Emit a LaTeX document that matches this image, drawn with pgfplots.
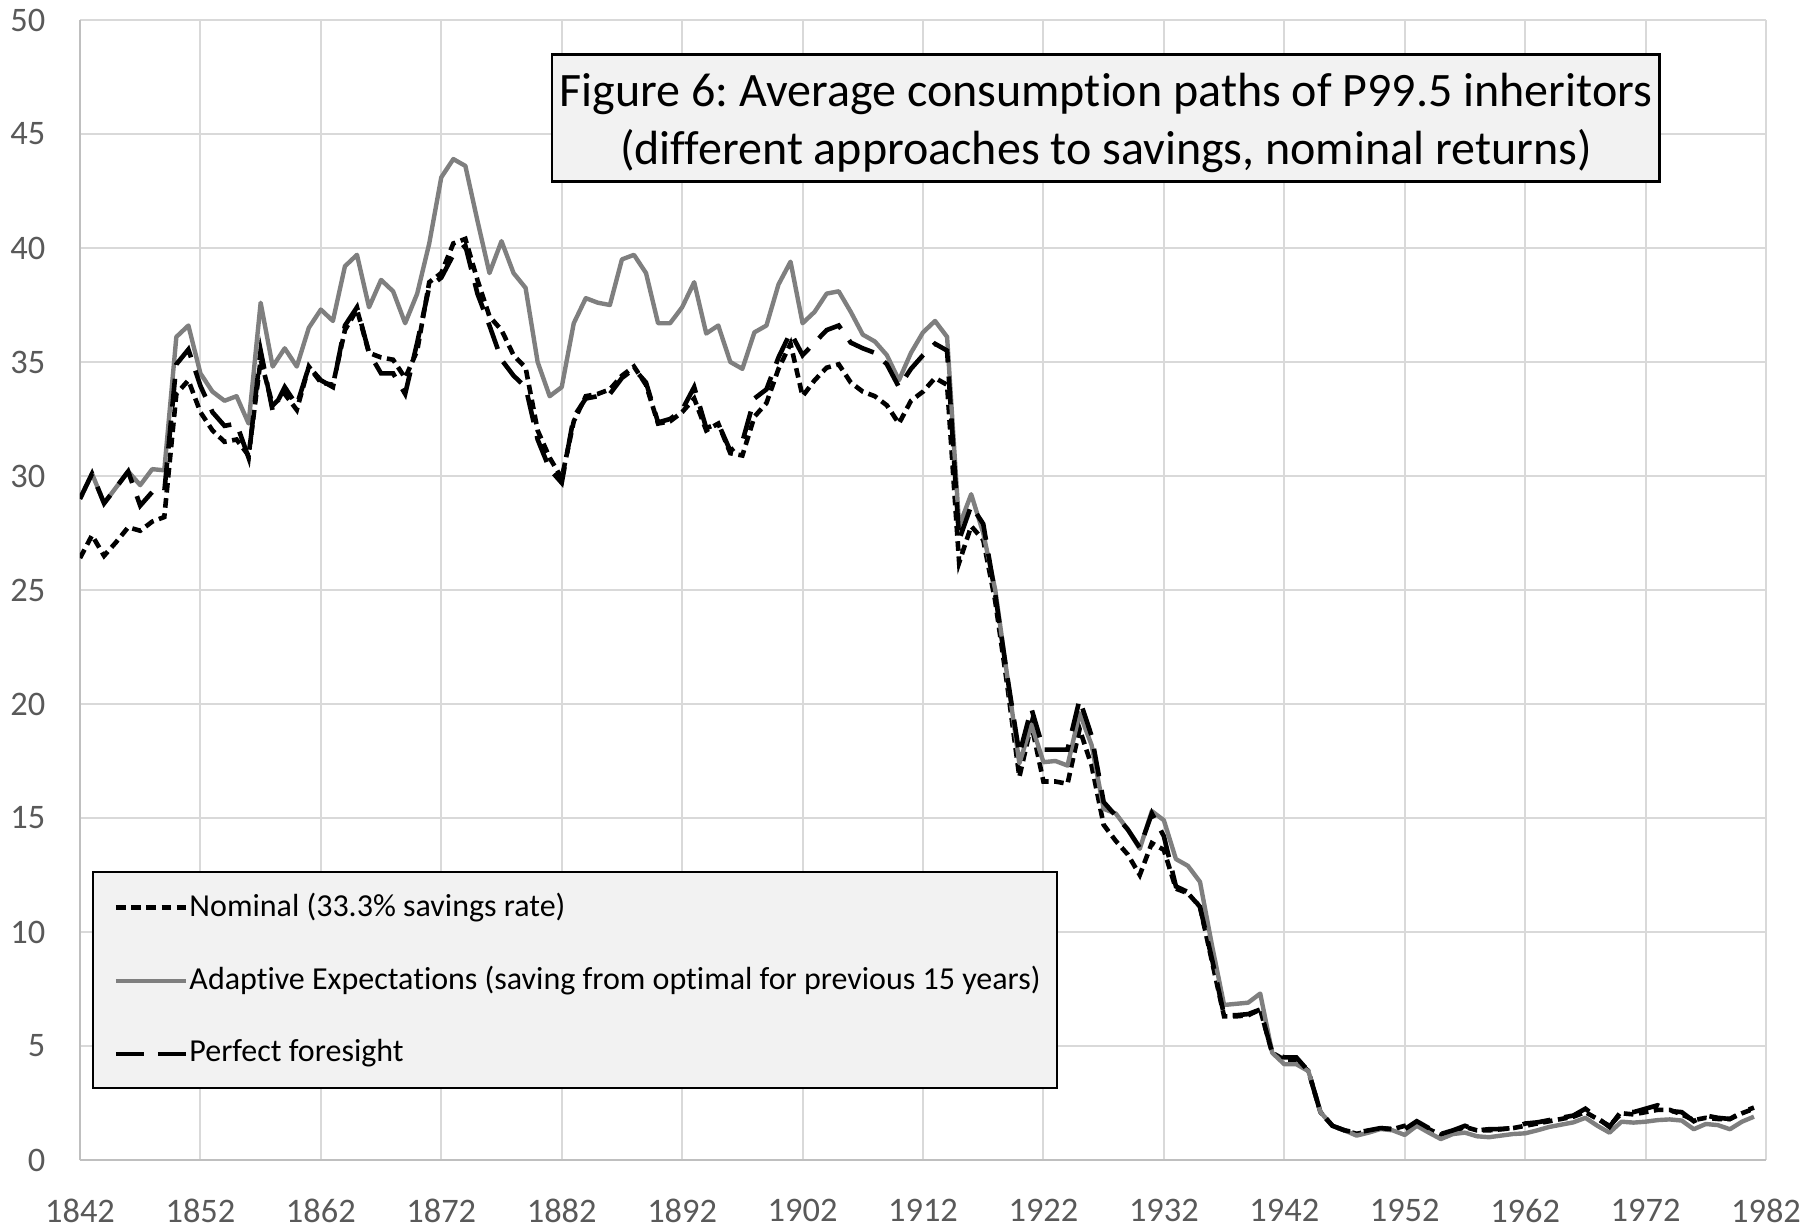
\documentclass[border=0pt]{standalone}
\usepackage{pgfplots}
\usepackage{pgfplotstable}
\pgfplotsset{compat=1.18}
\usepackage{fontspec}
\setmainfont{Carlito}[Ligatures=NoCommon]
\frenchspacing
\definecolor{gridc}{HTML}{D9D9D9}
\definecolor{axc}{HTML}{BFBFBF}
\definecolor{tickc}{HTML}{595959}
\definecolor{serg}{HTML}{7F7F7F}
\definecolor{boxf}{HTML}{F2F2F2}

\pgfplotstableread{
year nom ada pf
1842 26.4 29.0 29.0
1843 27.4 30.1 30.1
1844 26.5 28.8 28.8
1845 27.1 29.5 29.5
1846 27.75 30.2 30.2
1847 27.6 29.6 28.7
1848 28.0 30.3 29.3
1849 28.2 30.25 29.3
1850 33.6 36.1 34.9
1851 34.2 36.6 35.55
1852 32.8 34.5 33.95
1853 32.0 33.7 32.8
1854 31.5 33.3 32.2
1855 31.6 33.5 32.3
1856 30.9 32.3 30.8
1857 35.1 37.6 35.5
1858 33.1 34.8 32.85
1859 33.6 35.6 33.9
1860 32.9 34.8 33.1
1861 34.8 36.5 34.8
1862 34.1 37.3 34.2
1863 34.0 36.8 33.9
1864 36.4 39.2 36.6
1865 37.3 39.7 37.4
1866 35.4 37.4 35.4
1867 35.2 38.6 34.5
1868 35.1 38.1 34.5
1869 34.3 36.7 33.6
1870 35.5 38.0 35.85
1871 38.5 40.2 38.3
1872 38.9 43.1 38.7
1873 40.2 43.9 39.7
1874 40.4 43.6 40.1
1875 38.6 41.2 38.0
1876 37.0 38.9 36.6
1877 36.4 40.3 35.1
1878 35.3 38.9 34.4
1879 34.75 38.25 33.9
1880 32.0 35.0 31.6
1881 30.8 33.5 30.3
1882 29.9 33.9 29.7
1883 32.4 36.7 32.6
1884 33.5 37.8 33.4
1885 33.6 37.6 33.5
1886 33.8 37.5 33.6
1887 34.4 39.5 34.3
1888 34.8 39.7 34.7
1889 34.0 38.9 34.1
1890 32.3 36.7 32.35
1891 32.4 36.7 32.5
1892 32.8 37.4 32.9
1893 33.4 38.5 33.9
1894 32.0 36.25 32.1
1895 32.3 36.6 32.3
1896 31.0 35.0 31.1
1897 30.9 34.7 31.5
1898 32.6 36.3 33.4
1899 33.2 36.6 33.8
1900 34.7 38.4 35.2
1901 35.8 39.4 36.3
1902 33.5 36.7 35.3
1903 34.2 37.2 35.85
1904 34.75 38.0 36.4
1905 34.9 38.1 36.6
1906 34.1 37.2 35.85
1907 33.7 36.2 35.6
1908 33.5 35.9 35.4
1909 33.1 35.3 34.9
1910 32.3 34.2 33.9
1911 33.3 35.4 34.7
1912 33.7 36.3 35.3
1913 34.3 36.8 35.8
1914 34.0 36.1 35.5
1915 26.2 27.8 27.2
1916 27.8 29.2 28.7
1917 27.2 27.5 27.9
1918 24.5 25.0 24.8
1919 20.8 21.2 21.2
1920 16.8 17.4 17.8
1921 19.1 19.1 19.8
1922 16.6 17.45 18.0
1923 16.6 17.5 18.0
1924 16.5 17.3 18.0
1925 18.9 19.6 20.2
1926 17.3 18.2 18.6
1927 14.7 15.4 15.7
1928 14.0 15.2 15.1
1929 13.4 14.5 14.5
1930 12.5 13.65 13.7
1931 13.9 15.3 15.2
1932 13.6 14.9 14.2
1933 11.9 13.2 12.0
1934 11.7 12.9 11.75
1935 11.1 12.2 11.1
1936 8.7 9.4 8.8
1937 6.3 6.8 6.35
1938 6.3 6.85 6.35
1939 6.35 6.9 6.4
1940 6.6 7.3 6.6
1941 4.7 4.7 4.7
1942 4.4 4.2 4.5
1943 4.4 4.2 4.5
1944 3.9 3.9 3.9
1945 2.1 2.1 2.1
1946 1.5 1.5 1.5
1947 1.3 1.3 1.3
1948 1.15 1.07 1.2
1949 1.25 1.2 1.3
1950 1.4 1.36 1.4
1951 1.35 1.3 1.35
1952 1.5 1.1 1.35
1953 1.6 1.5 1.7
1954 1.35 1.2 1.4
1955 1.1 0.92 1.14
1956 1.25 1.14 1.3
1957 1.45 1.2 1.5
1958 1.3 1.04 1.3
1959 1.3 1.0 1.35
1960 1.35 1.07 1.36
1961 1.4 1.14 1.4
1962 1.5 1.17 1.6
1963 1.6 1.3 1.65
1964 1.7 1.45 1.75
1965 1.8 1.55 1.85
1966 1.9 1.65 1.95
1967 2.1 1.85 2.25
1968 1.8 1.5 1.85
1969 1.5 1.2 1.45
1970 2.05 1.68 2.15
1971 2.0 1.64 2.1
1972 2.1 1.68 2.25
1973 2.2 1.75 2.4
1974 2.2 1.78 2.15
1975 2.0 1.73 2.1
1976 1.75 1.35 1.7
1977 1.85 1.58 1.95
1978 1.8 1.53 1.85
1979 1.8 1.35 1.8
1980 2.05 1.68 2.1
1981 2.25 1.9 2.3
}\datatable

\begin{document}
\begin{tikzpicture}
\path[use as bounding box] (-20pt,-17.75pt) rectangle (434.5pt,290pt);
\begin{axis}[
  at={(0pt,0pt)}, anchor=south west,
  scale only axis, width=421.5pt, height=285pt,
  xmin=1842, xmax=1982, ymin=0, ymax=50,
  xtick={1842,1852,...,1982}, ytick={0,5,...,50},
  grid=major, major grid style={draw=gridc, line width=0.5pt},
  axis x line*=bottom, axis y line*=left,
  axis line style={draw=axc, line width=0.6pt, -},
  major tick length=0pt,
  tick label style={font=\fontsize{8.6}{10}\selectfont, text=tickc, inner sep=0pt},
  /pgf/number format/assume math mode=true,
  /pgf/number format/1000 sep={},
  xticklabel style={anchor=north, yshift=-9.5pt},
  yticklabel style={anchor=east, xshift=-8.5pt},
  legend cell align=left,
  legend image code/.code={\draw[#1] (0pt,0pt) -- (17.5pt,0pt);},
  legend style={at={(rel axis cs:0.0195,0.2350)}, anchor=north west,
    draw=none, fill=none, inner sep=0pt, row sep=11pt,
    font=\fontsize{8.0}{9.6}\selectfont,
    nodes={inner sep=0pt},
    /tikz/every odd column/.append style={column sep=0.3pt}},
]
\draw[draw=black, fill=boxf, line width=0.7pt] (rel axis cs:0.280,0.970) rectangle (rel axis cs:0.937,0.858);
\node[align=center, font=\fontsize{12}{14.5}\selectfont] at (rel axis cs:0.6085,0.910)
  {Figure 6: Average consumption paths of P99.5 inheritors\\(different approaches to savings, nominal returns)};
\draw[draw=black, fill=boxf, line width=0.7pt] (rel axis cs:0.0077,0.2526) rectangle (rel axis cs:0.5795,0.0632);

\addplot[black, line width=1.15pt, dash pattern=on 2.4pt off 1.4pt] table[x=year,y=nom]{\datatable};
\addlegendentry{Nominal (33.3\% savings rate)}
\addplot[serg, line width=1.1pt, line join=round] table[x=year,y=ada]{\datatable};
\addlegendentry{Adaptive Expectations (saving from optimal for previous 15 years)}
\addplot[black, line width=1.15pt, dash pattern=on 7pt off 3.5pt] table[x=year,y=pf]{\datatable};
\addlegendentry{Perfect foresight}
\end{axis}
\end{tikzpicture}
\end{document}
